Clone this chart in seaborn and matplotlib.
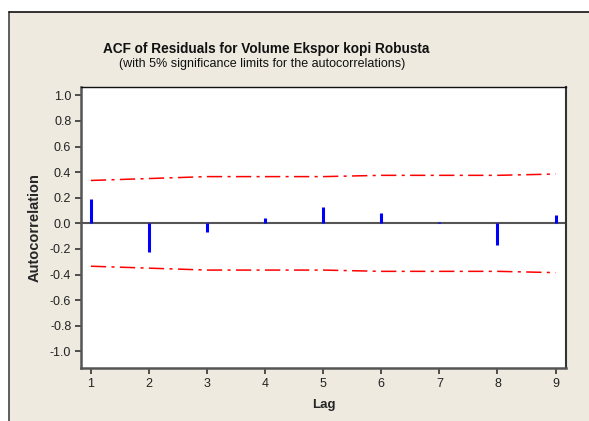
import matplotlib
matplotlib.use("Agg")
import matplotlib.pyplot as plt
import seaborn as sns
import pandas as pd
from matplotlib.lines import Line2D
from matplotlib.patches import Rectangle

lags = [1, 2, 3, 4, 5, 6, 7, 8, 9]
acf_values = [0.19, -0.22, -0.07, 0.04, 0.13, 0.08, 0.01, -0.17, 0.065]
upper_limit = [0.335, 0.35, 0.365, 0.365, 0.365, 0.375, 0.375, 0.375, 0.385]
lower_limit = [-v for v in upper_limit]
yticks = [-1.0, -0.8, -0.6, -0.4, -0.2, 0.0, 0.2, 0.4, 0.6, 0.8, 1.0]

sns.set_theme(style="white")
plt.rcParams['font.family'] = ['Liberation Sans', 'DejaVu Sans']

W, H = 589, 421
fig = plt.figure(figsize=(W / 100, H / 100), dpi=100)
fig.patch.set_facecolor("white")
bg = "#EEEAE0"
fig.patches.append(Rectangle((9 / W, 0), 1 - 9 / W, 1 - 12 / H, transform=fig.transFigure,
                             facecolor=bg, edgecolor="none", zorder=-10))
fig.lines.append(Line2D([9 / W, 9 / W], [0, 1 - 12 / H], transform=fig.transFigure,
                        color="#444444", lw=1.2, zorder=-5))
fig.lines.append(Line2D([9 / W, 1], [1 - 12 / H, 1 - 12 / H], transform=fig.transFigure,
                        color="#111111", lw=1.2, zorder=-5))

ax = fig.add_axes([81 / W, 1 - 368 / H, (566 - 81) / W, (368 - 87) / H])
ax.set_facecolor("white")

df = pd.DataFrame({"Lag": lags, "ACF": acf_values, "Upper": upper_limit, "Lower": lower_limit})

ax.axhline(0, color="#555555", lw=1.5, zorder=2)
ax.vlines(df["Lag"], 0, df["ACF"], color="#0000FF", lw=2.2, zorder=3)
dash = (0, (10, 3.5, 2, 3.5))
sns.lineplot(data=df, x="Lag", y="Upper", ax=ax, color="#FF0000", lw=1.1, linestyle=dash, zorder=4)
sns.lineplot(data=df, x="Lag", y="Lower", ax=ax, color="#FF0000", lw=1.1, linestyle=dash, zorder=4)

ax.set_xlim(0.83, 9.18)
ax.set_ylim(-1.13, 1.065)
ax.set_xticks(lags)
ax.set_xticklabels([str(l) for l in lags])
ax.set_yticks(yticks)
ax.set_yticklabels([f"{t:.1f}" for t in yticks])
ax.tick_params(axis="both", direction="out", length=4, width=1.2, color="#333333",
               labelsize=9, labelcolor="#222222", pad=3)
ax.tick_params(left=True, bottom=True)
for side in ["left", "bottom", "right", "top"]:
    ax.spines[side].set_visible(True)
ax.spines["left"].set_color("#555555")
ax.spines["left"].set_linewidth(1.8)
ax.spines["bottom"].set_color("#555555")
ax.spines["bottom"].set_linewidth(1.8)
ax.spines["right"].set_color("#333333")
ax.spines["right"].set_linewidth(1.5)
ax.spines["top"].set_color("#111111")
ax.spines["top"].set_linewidth(1.0)

ax.set_xlabel("Lag", fontsize=9.5, fontweight="bold", labelpad=7)
ax.set_ylabel("Autocorrelation", fontsize=10.5, fontweight="bold", labelpad=6)

fig.text(266 / W, 1 - 49 / H, "ACF of Residuals for Volume Ekspor kopi Robusta",
         ha="center", va="center", fontsize=9.8, fontweight="bold", color="#111111")
fig.text(262 / W, 1 - 64 / H, "(with 5% significance limits for the autocorrelations)",
         ha="center", va="center", fontsize=9, color="#111111")

fig.savefig("out.png", dpi=100, facecolor=fig.get_facecolor())
